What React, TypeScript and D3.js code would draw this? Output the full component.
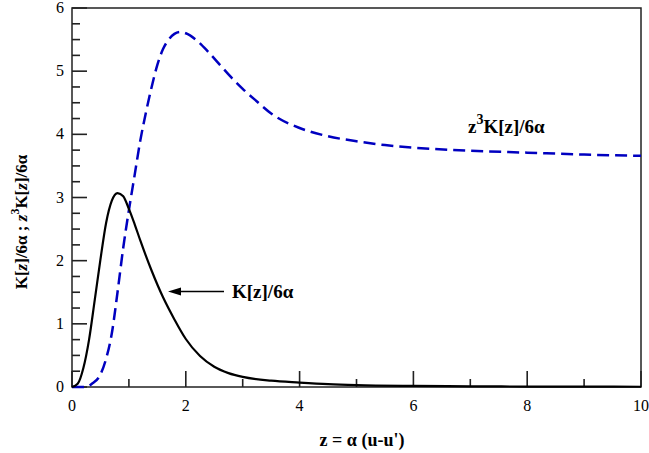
import React from 'react';
import * as d3 from 'd3';

// K[z]/6a (solid black curve)
const kZ = [0, 0.1, 0.2, 0.3, 0.4, 0.5, 0.6, 0.7, 0.8, 0.9, 1.0, 1.1, 1.2, 1.4, 1.6, 1.8, 2.0, 2.25, 2.5, 2.75, 3.0, 3.5, 4, 4.5, 5, 6, 7, 8, 9, 10];
const kVal = [0, 0.05, 0.3, 0.75, 1.38, 2.02, 2.6, 2.95, 3.07, 3.02, 2.82, 2.58, 2.32, 1.84, 1.42, 1.07, 0.76, 0.49, 0.32, 0.22, 0.16, 0.1, 0.07, 0.045, 0.03, 0.017, 0.011, 0.007, 0.005, 0.004];

// z^3 K[z]/6a (dashed blue curve)
const z3Z = [0, 0.25, 0.35, 0.5, 0.6, 0.7, 0.8, 0.9, 1.0, 1.1, 1.2, 1.3, 1.4, 1.5, 1.6, 1.7, 1.8, 1.9, 2.0, 2.2, 2.4, 2.6, 2.8, 3.0, 3.25, 3.5, 4, 4.5, 5, 5.5, 6, 7, 8, 9, 10];
const z3Val = [0, 0, 0.05, 0.2, 0.45, 0.85, 1.5, 2.2, 2.8, 3.35, 3.9, 4.35, 4.75, 5.1, 5.35, 5.5, 5.59, 5.62, 5.6, 5.48, 5.3, 5.1, 4.9, 4.72, 4.52, 4.33, 4.1, 3.97, 3.89, 3.83, 3.79, 3.74, 3.71, 3.68, 3.66];

const xTicks = [0, 2, 4, 6, 8, 10];
const xMinor = [1, 3, 5, 7, 9];
const yTicks = [0, 1, 2, 3, 4, 5, 6];
const yMinor = d3.range(0, 6, 0.25).filter(v => v % 1 !== 0);

const FONT = "'Liberation Serif', 'Times New Roman', 'DejaVu Serif', serif";

const left = 72, right = 641, top = 8, bottom = 387;
const x = d3.scaleLinear().domain([0, 10]).range([left, right]);
const y = d3.scaleLinear().domain([0, 6]).range([bottom, top]);

const line = d3.line<[number, number]>()
    .x(d => x(d[0])).y(d => y(d[1]))
    .curve(d3.curveMonotoneX);

const App = () => {
    const kPath = line(kZ.map((z, i) => [z, kVal[i]] as [number, number])) || '';
    const z3Path = line(z3Z.map((z, i) => [z, z3Val[i]] as [number, number])) || '';

    return (
        <svg width={649} height={453}
            style={{ position: 'absolute', left: 0, top: 0, background: '#fff', fontFamily: FONT }}>
            {/* frame */}
            <rect x={left} y={top} width={right - left} height={bottom - top}
                fill="none" stroke="#222" strokeWidth={1.5} />

            {/* inward ticks */}
            <g fill="#222">
                {xTicks.map(v => <rect key={'xm' + v} x={x(v) - 0.8} y={bottom - 16} width={1.6} height={16} />)}
                {xMinor.map(v => <rect key={'xn' + v} x={x(v) - 0.8} y={bottom - 8} width={1.6} height={8} />)}
                {yTicks.map(v => <rect key={'ym' + v} x={left} y={y(v) - 0.8} width={15} height={1.6} />)}
                {yMinor.map(v => <rect key={'yn' + v} x={left} y={y(v) - 0.8} width={8} height={1.6} />)}
            </g>

            {xTicks.map(v => (
                <text key={'xl' + v} x={x(v)} y={411} textAnchor="middle" fontSize={16} fontFamily={FONT}>{v}</text>
            ))}
            {yTicks.map(v => (
                <text key={'yl' + v} x={64} y={y(v) + 5} textAnchor="end" fontSize={16} fontFamily={FONT}>{v}</text>
            ))}

            <path d={z3Path} fill="none" stroke="#0000c0" strokeWidth={2.5} strokeDasharray="12,6" />
            <path d={kPath} fill="none" stroke="#000" strokeWidth={2.2} />

            {/* annotations */}
            <text x={468} y={133} fontSize={19} fontWeight="bold" fontFamily={FONT}>
                <tspan>z</tspan>
                <tspan dy={-9} fontSize={14}>3</tspan>
                <tspan dy={9}>K[z]/6α</tspan>
            </text>

            <path d="M168,291.5 L181,287.5 L181,295.5 Z" fill="#000" />
            <line x1={224} y1={291.5} x2={178} y2={291.5} stroke="#000" strokeWidth={1.3} />
            <text x={232} y={298} fontSize={19} fontWeight="bold" fontFamily={FONT}>K[z]/6α</text>

            {/* axis titles */}
            <text x={362} y={446} textAnchor="middle" fontSize={18} fontWeight="bold" fontFamily={FONT}>z = α (u-u')</text>
            <text transform="translate(27,222) rotate(-90)" textAnchor="middle" fontSize={17} fontWeight="bold" fontFamily={FONT}>
                <tspan>K[</tspan>
                <tspan fontStyle="italic">z</tspan>
                <tspan>]/6α ;  </tspan>
                <tspan fontStyle="italic">z</tspan>
                <tspan dy={-8} fontSize={12}>3</tspan>
                <tspan dy={8}>K[</tspan>
                <tspan fontStyle="italic">z</tspan>
                <tspan>]/6α</tspan>
            </text>
        </svg>
    );
};

export default App;
